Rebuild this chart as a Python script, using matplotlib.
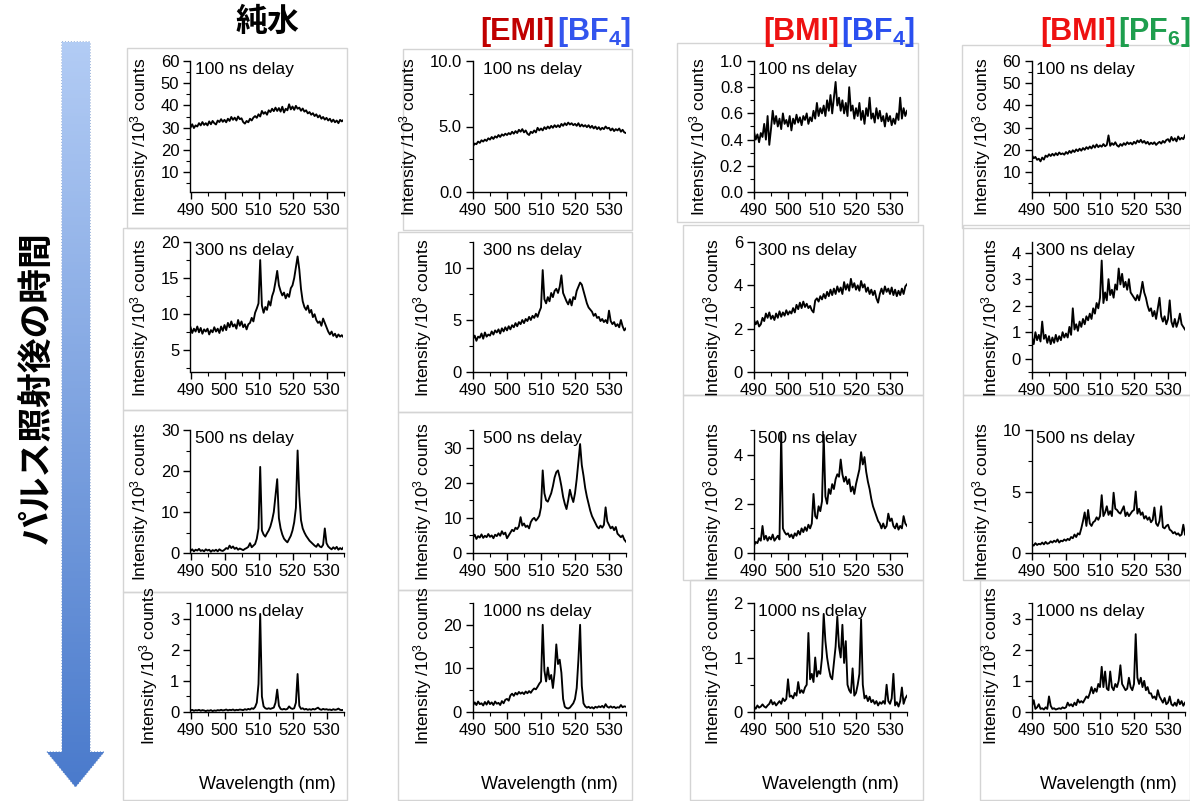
import numpy as np
import matplotlib
matplotlib.use('Agg')
import matplotlib.pyplot as plt
from matplotlib.patches import Polygon, Rectangle
from matplotlib.ticker import MultipleLocator, FormatStrFormatter

plt.rcParams['font.family'] = ['Liberation Sans', 'DejaVu Sans']
plt.rcParams['mathtext.fontset'] = 'custom'
plt.rcParams['mathtext.rm'] = 'Liberation Sans'
plt.rcParams['mathtext.it'] = 'Liberation Sans:italic'
plt.rcParams['mathtext.bf'] = 'Liberation Sans:bold'

# wavelength grid (nm), 0.5 nm steps
wl = np.arange(490, 535.5, 0.5)

samples = ['純水', 'EMI_BF4', 'BMI_BF4', 'BMI_PF6']
delays = ['100 ns delay', '300 ns delay', '500 ns delay', '1000 ns delay']

# intensity /10^3 counts
water_100 = [30, 31.5, 29.8, 31, 30.5, 32, 31, 32.5, 31.2, 32,
             31, 32.8, 31.5, 33, 32, 31.4, 33.2, 32.5, 33.8, 32.6,
             33.5, 32.4, 34, 33, 34.8, 33.5, 34.5, 33.2, 35, 33.8,
             34.2, 32.5, 31.8, 33, 32.4, 34, 33.2, 34.5, 35.2, 34.4,
             36, 35, 37.5, 36.2, 37, 35.8, 37.8, 37, 38.5, 37.4,
             39, 37.5, 38.8, 37.2, 39.4, 36.8, 38.5, 37.8, 40.5, 38.2,
             39.5, 38, 39.8, 38.5, 39, 37.6, 38.6, 37.2, 37.8, 36.4,
             37, 35.8, 36.5, 35.2, 36, 34.6, 35.5, 34, 34.8, 33.6,
             34.4, 33.2, 34, 32.6, 33.6, 32.4, 33.2, 32, 33.5, 32.8,
             33.5]
emi_bf4_100 = [3.5, 3.7, 3.65, 3.85, 3.75, 3.95, 3.85, 4.0, 3.9, 4.1,
               4.0, 4.2, 4.05, 4.25, 4.15, 4.35, 4.2, 4.4, 4.3, 4.45,
               4.35, 4.5, 4.4, 4.6, 4.45, 4.65, 4.5, 4.75, 4.6, 4.8,
               4.55, 4.7, 4.45, 4.35, 4.6, 4.5, 4.7, 4.55, 4.9, 4.7,
               4.85, 4.7, 4.95, 4.8, 5.0, 4.85, 5.05, 4.9, 5.1, 4.95,
               5.1, 4.95, 5.2, 5.05, 5.25, 5.1, 5.3, 5.15, 5.25, 5.1,
               5.2, 5.05, 5.25, 5.0, 5.15, 5.0, 5.1, 4.95, 5.1, 4.9,
               5.05, 4.85, 5.0, 4.8, 4.95, 4.75, 4.9, 4.8, 5.0, 4.85,
               4.9, 4.7, 4.85, 4.65, 4.8, 4.7, 4.85, 4.6, 4.75, 4.55,
               4.5]
bmi_bf4_100 = [0.46, 0.40, 0.44, 0.38, 0.45, 0.42, 0.52, 0.40, 0.58, 0.36,
               0.48, 0.62, 0.52, 0.58, 0.50, 0.56, 0.48, 0.60, 0.52, 0.55,
               0.50, 0.58, 0.47, 0.56, 0.52, 0.59, 0.53, 0.57, 0.51, 0.58,
               0.55, 0.60, 0.52, 0.57, 0.54, 0.62, 0.56, 0.68, 0.58, 0.64,
               0.60, 0.66, 0.58, 0.70, 0.62, 0.74, 0.60, 0.72, 0.84, 0.66,
               0.72, 0.62, 0.70, 0.60, 0.68, 0.58, 0.80, 0.62, 0.66, 0.56,
               0.64, 0.58, 0.68, 0.55, 0.62, 0.52, 0.64, 0.58, 0.72, 0.56,
               0.60, 0.53, 0.64, 0.56, 0.62, 0.54, 0.58, 0.50, 0.60, 0.54,
               0.58, 0.51, 0.56, 0.52, 0.60, 0.55, 0.72, 0.56, 0.64, 0.58,
               0.62]
bmi_pf6_100 = [17.5, 16.2, 16.8, 15.5, 16, 14.8, 16.5, 15.6, 17.4, 16.8,
               18, 17.2, 18.2, 17.4, 18.5, 17.6, 18.8, 18, 18.4, 17.8,
               19, 18.2, 19.5, 18.6, 19.8, 19, 20.2, 19.4, 20.5, 19.6,
               20.8, 20, 21.2, 20.4, 21.5, 20.6, 22, 21, 22.4, 21.2,
               22, 21.4, 22.6, 21.6, 22.2, 26.5, 21.8, 23, 22.2, 23.4,
               22, 21.4, 22.6, 21.8, 23, 22.2, 23.4, 22.6, 23.2, 22.4,
               23.6, 22.8, 24.2, 23.4, 24.5, 23.2, 24, 22.8, 23.6, 22.4,
               23.2, 22.6, 23.4, 22.2, 23, 23.6, 22.8, 24, 23.2, 24.4,
               24.8, 23.6, 25.8, 24.2, 25.2, 23.8, 26, 24.6, 25.4, 24.8,
               26.5]

water_300 = [8.2, 7.4, 8.0, 7.6, 8.3, 7.5, 8.1, 7.3, 7.9, 7.6,
             8.0, 7.2, 7.8, 7.5, 8.2, 7.6, 8.0, 7.4, 8.3, 7.7,
             8.5, 7.8, 8.8, 8.2, 9.0, 8.3, 8.6, 8.0, 9.2, 8.4,
             9.0, 8.2, 8.6, 7.9, 8.6, 8.8, 9.5, 9.0, 10.2, 10.8,
             11.5, 17.5, 11.2, 10.2, 11.0, 10.6, 11.8, 11.2, 12.5, 13.2,
             14.5, 16.0, 14.0, 13.2, 12.6, 13.0, 12.2, 12.8, 12.4, 13.6,
             14.0, 15.0, 16.5, 18.0, 16.2, 13.5, 11.8, 11.0, 10.6, 11.2,
             10.2, 10.6, 9.6, 10.0, 9.2, 8.8, 9.0, 8.4, 9.4, 8.8,
             8.2, 7.6, 7.2, 7.6, 7.0, 7.3, 6.8, 7.2, 6.9, 7.1,
             6.8]
emi_bf4_300 = [3.2, 3.5, 3.0, 3.4, 3.3, 3.7, 3.2, 3.8, 3.4, 3.6,
               3.5, 3.9, 3.6, 4.0, 3.8, 4.1, 3.7, 4.2, 3.9, 4.3,
               4.0, 4.4, 4.1, 4.5, 4.3, 4.7, 4.4, 4.8, 4.6, 5.0,
               4.7, 5.1, 4.9, 5.3, 5.0, 5.4, 5.2, 5.6, 5.3, 5.8,
               6.2, 9.8, 7.0, 6.6, 7.2, 6.8, 7.6, 7.2, 7.8, 8.0,
               7.6, 8.2, 9.3, 7.6, 7.2, 6.8, 6.5, 7.0, 6.4, 7.2,
               7.0, 7.8, 8.2, 8.6, 8.4, 7.8, 7.2, 6.6, 6.2, 6.0,
               5.8, 5.4, 5.6, 5.2, 5.3, 4.9, 5.1, 4.8, 5.0, 4.7,
               5.9, 4.9, 4.6, 4.8, 4.4, 4.6, 4.3, 5.0, 4.4, 4.0,
               4.2]
bmi_bf4_300 = [2.4, 2.2, 2.35, 2.1, 2.2, 2.5, 2.35, 2.7, 2.5, 2.75,
               2.45, 2.6, 2.4, 2.7, 2.5, 2.8, 2.55, 2.75, 2.6, 2.85,
               2.65, 2.8, 2.7, 2.95, 2.75, 3.1, 2.9, 3.2, 2.95, 3.25,
               3.0, 3.15, 2.95, 3.05, 2.85, 2.75, 3.3, 3.4, 3.25, 3.5,
               3.35, 3.6, 3.4, 3.7, 3.5, 3.8, 3.55, 3.85, 3.6, 3.95,
               3.7, 3.9, 3.6, 4.15, 3.8, 4.05, 3.75, 4.3, 3.9, 4.1,
               3.8, 4.0, 3.75, 4.2, 3.9, 4.05, 3.7, 3.9, 3.6, 3.8,
               3.55, 3.75, 3.4, 3.2, 3.6, 3.85, 3.6, 3.95, 3.7, 3.85,
               3.6, 3.9, 3.55, 3.8, 3.5, 3.75, 3.55, 3.85, 3.6, 3.95,
               4.05]
bmi_pf6_300 = [0.8, 0.55, 1.0, 0.7, 0.9, 0.65, 1.4, 0.75, 0.9, 0.6,
               0.85, 0.55, 0.8, 0.6, 0.9, 0.65, 0.85, 0.7, 1.0, 0.8,
               0.95, 0.8, 1.2, 0.9, 1.9, 1.1, 1.3, 1.05, 1.4, 1.2,
               1.5, 1.3, 1.6, 1.45, 1.7, 1.5, 1.9, 1.7, 2.1, 1.9,
               2.3, 3.7, 2.1, 2.5, 2.2, 3.0, 2.4, 2.6, 2.3, 2.8,
               2.6, 3.4, 2.8, 3.2, 2.7, 2.9, 2.6, 3.0, 2.5, 2.4,
               2.3, 2.2, 2.4, 2.2, 2.5, 2.9, 2.5, 2.3, 2.0, 1.8,
               1.9, 1.6, 1.8, 1.5, 1.9, 2.3, 1.6, 1.4, 1.6, 1.3,
               1.5, 2.2, 1.4, 1.2, 1.5, 1.2, 1.4, 1.7, 1.3, 1.2,
               1.1]

water_500 = [0.5, 0.9, 0.4, 0.8, 0.6, 1.0, 0.5, 0.7, 0.4, 0.9,
             0.6, 0.8, 0.3, 0.7, 0.5, 0.8, 0.4, 0.9, 0.6, 0.5,
             0.8, 1.2, 1.0, 1.8, 1.2, 1.6, 1.0, 1.3, 0.8, 1.1,
             0.9, 0.7, 1.0, 1.2, 1.5, 2.4, 1.4, 1.8, 2.2, 3.5,
             6.0, 21.0, 5.5, 4.5, 4.0, 4.8, 5.5, 6.5, 8.0, 10.0,
             14.0, 18.0, 8.5, 6.0, 4.5, 3.5, 3.0, 2.6, 3.4, 4.2,
             5.5, 7.5, 11.0, 25.0, 14.0, 8.0, 6.0, 5.0, 4.2, 3.6,
             3.0, 2.6, 2.2, 1.8, 1.5, 2.2, 1.6, 1.4, 2.0, 6.0,
             2.4, 1.6, 1.2, 0.9, 1.4, 1.0, 1.5, 0.8, 1.2, 0.9,
             1.4]
emi_bf4_500 = [4.5, 5.2, 4.0, 4.8, 4.4, 5.3, 4.3, 4.9, 4.5, 5.4,
               4.6, 5.0, 4.2, 5.2, 4.8, 5.6, 4.9, 6.2, 5.3, 5.8,
               4.2, 5.0, 5.8, 6.6, 6.2, 7.2, 6.8, 7.6, 10.2, 7.8,
               8.4, 7.4, 7.8, 7.0, 8.8, 9.6, 10.0, 9.2, 9.8, 10.6,
               13.0, 23.5, 17.0, 15.0, 14.6, 15.8, 17.0, 19.0, 21.5, 23.0,
               23.5, 21.5, 19.0, 16.0, 14.0, 12.5, 15.0, 18.0, 16.0, 14.5,
               17.0, 21.0, 26.0, 31.0, 25.0, 22.0, 18.5, 16.0, 14.0, 12.0,
               10.5, 9.5, 8.5, 7.5, 7.0, 7.8, 7.2, 8.0, 13.0, 9.0,
               8.0, 7.0, 7.5, 6.5, 7.4, 5.5, 5.0, 4.5, 5.0, 3.8,
               3.2]
bmi_bf4_500 = [0.3, 0.45, 0.4, 0.6, 0.5, 1.1, 0.55, 0.7, 0.5, 0.65,
               0.55, 0.75, 0.5, 0.6, 0.7, 0.55, 4.9, 1.0, 0.85, 0.75,
               0.8, 0.65, 0.75, 0.6, 0.8, 0.7, 0.9, 0.75, 1.0, 0.85,
               1.05, 0.9, 1.15, 1.0, 1.2, 2.4, 1.5, 1.4, 1.9, 1.7,
               2.1, 4.8, 2.3, 2.0, 2.6, 2.4, 2.8, 2.6, 3.0, 3.2,
               3.1, 3.8, 3.2, 2.9, 3.1, 2.8, 3.0, 2.5, 2.7, 2.4,
               2.8, 3.1, 3.4, 4.1, 3.6, 3.9, 3.3, 2.9, 2.6, 2.2,
               1.9, 1.7, 1.5, 1.3, 1.2, 1.0, 1.2, 1.0, 1.1, 1.6,
               1.3, 1.4, 1.1, 1.0, 1.2, 0.95, 1.1, 1.0, 1.5, 1.2,
               1.1]
bmi_pf6_500 = [0.7, 0.6, 0.8, 0.65, 0.75, 0.7, 0.85, 0.7, 0.9, 0.75,
               0.8, 0.95, 0.85, 1.0, 0.9, 1.1, 0.85, 1.0, 0.95, 1.1,
               1.0, 1.15, 1.05, 1.3, 1.2, 1.5, 1.3, 1.6, 1.5, 2.0,
               2.6, 3.3, 2.2, 3.5, 2.4, 2.2, 2.5, 2.6, 2.9, 2.7,
               3.0, 4.7, 3.0, 3.3, 3.8, 3.1, 3.4, 3.0, 4.9, 3.6,
               3.5, 3.3, 3.2, 3.5, 3.8, 3.0, 3.3, 3.0, 3.2, 3.4,
               3.5, 5.0, 3.2, 3.6, 3.1, 3.3, 2.8, 3.0, 2.7, 2.9,
               2.5, 2.7, 3.7, 2.4, 2.2, 2.6, 3.8, 2.1, 2.0, 2.2,
               2.3, 1.9, 1.8, 1.6, 1.7, 1.5, 1.6, 1.4, 1.5, 2.3,
               1.5]

water_1000 = [0.05, 0.07, 0.04, 0.06, 0.05, 0.07, 0.04, 0.06, 0.05, 0.03,
              0.05, 0.04, 0.06, 0.03, 0.05, 0.04, 0.06, 0.05, 0.07, 0.05,
              0.06, 0.08, 0.05, 0.07, 0.06, 0.08, 0.05, 0.07, 0.06, 0.08,
              0.07, 0.06, 0.09, 0.07, 0.1, 0.08, 0.12, 0.1, 0.16, 0.3,
              0.9, 3.15, 0.5, 0.18, 0.12, 0.1, 0.12, 0.1, 0.12, 0.14,
              0.3, 0.72, 0.2, 0.1, 0.08, 0.1, 0.08, 0.1, 0.18, 0.12,
              0.1, 0.12, 0.3, 1.22, 0.2, 0.1, 0.12, 0.08, 0.1, 0.07,
              0.09, 0.07, 0.1, 0.08, 0.11, 0.14, 0.09, 0.07, 0.1, 0.08,
              0.09, 0.07, 0.08, 0.06, 0.09, 0.07, 0.08, 0.11, 0.07, 0.06,
              0.07]
emi_bf4_1000 = [1.5, 2.2, 1.6, 2.4, 1.8, 2.0, 1.5, 2.3, 1.7, 2.5,
                1.8, 2.2, 1.6, 2.4, 1.9, 2.1, 1.6, 2.5, 2.0, 2.8,
                3.0, 2.6, 3.8, 4.2, 3.7, 4.4, 4.0, 4.6, 4.2, 4.5,
                4.1, 4.7, 4.3, 4.8, 4.4, 5.0, 5.4, 5.2, 5.8, 6.5,
                7.0, 20.0, 9.5, 7.0, 10.2, 7.5, 8.5, 5.5, 9.0, 15.5,
                11.0, 12.0, 9.0, 3.0, 1.2, 0.9, 0.8, 1.0, 1.5, 2.0,
                3.0, 5.5, 12.0, 20.0, 6.0, 2.0, 1.3, 1.0, 1.2, 0.9,
                1.1, 0.8, 1.2, 1.0, 1.3, 1.1, 1.4, 1.0, 1.8, 1.2,
                1.0, 1.3, 1.0, 1.2, 0.9, 1.1, 1.0, 1.6, 1.1, 1.3,
                1.2]
bmi_bf4_1000 = [0.1, 0.06, 0.12, 0.08, 0.1, 0.14, 0.1, 0.08, 0.12, 0.15,
                0.22, 0.14, 0.18, 0.12, 0.16, 0.2, 0.15, 0.25, 0.2, 0.24,
                0.6, 0.28, 0.3, 0.25, 0.35, 0.3, 0.55, 0.35, 0.4, 0.35,
                0.45, 0.5, 1.45, 0.6, 0.7, 0.55, 1.0, 0.65, 0.75, 0.7,
                1.0, 1.8, 1.3, 1.0, 0.8, 0.65, 0.6, 0.9, 1.2, 1.75,
                1.2, 1.0, 1.6, 0.9, 1.3, 0.5, 0.4, 0.35, 0.8, 0.3,
                0.35, 0.5, 0.7, 1.7, 0.5, 0.25, 0.3, 0.2, 0.28, 0.18,
                0.22, 0.15, 0.2, 0.12, 0.18, 0.15, 0.2, 0.15, 0.5, 0.2,
                0.15, 0.25, 0.7, 0.12, 0.18, 0.1, 0.2, 0.45, 0.15, 0.25,
                0.3]
bmi_pf6_1000 = [0.2, 0.38, 0.1, 0.15, 0.25, 0.1, 0.12, 0.08, 0.15, 0.1,
                0.5, 0.2, 0.1, 0.12, 0.08, 0.1, 0.12, 0.1, 0.15, 0.12,
                0.15, 0.3, 0.2, 0.25, 0.18, 0.3, 0.22, 0.4, 0.3, 0.35,
                0.3, 0.4, 0.5, 0.45, 0.6, 0.8, 0.6, 0.75, 0.65, 0.9,
                0.8, 1.45, 0.8, 1.3, 0.75, 0.7, 1.3, 0.8, 0.7, 0.9,
                0.8, 1.0, 1.5, 0.9, 0.8, 0.7, 0.75, 1.1, 0.8, 0.7,
                0.9, 2.5, 1.1, 0.9, 1.1, 0.8, 1.0, 0.7, 0.8, 0.6,
                0.6, 0.45, 0.5, 0.4, 0.7, 0.5, 0.4, 0.3, 0.45, 0.25,
                0.3, 0.5, 0.25, 0.2, 0.3, 0.2, 0.4, 0.25, 0.35, 0.2,
                0.3]

spectra = [[water_100, emi_bf4_100, bmi_bf4_100, bmi_pf6_100],
           [water_300, emi_bf4_300, bmi_bf4_300, bmi_pf6_300],
           [water_500, emi_bf4_500, bmi_bf4_500, bmi_pf6_500],
           [water_1000, emi_bf4_1000, bmi_bf4_1000, bmi_pf6_1000]]

# y axis: (ymin, ymax, major, minor, format)
yaxes = [[(1, 60, 10, 5, None), (0, 10, 5, 2.5, '%.1f'), (0, 1, 0.2, 0.1, '%.1f'), (1, 60, 10, 5, None)],
         [(2, 20, 5, 2.5, None), (0, 12.5, 5, 2.5, None), (0, 6, 2, 1, None), (-0.5, 4.4, 1, 0.5, None)],
         [(0, 30, 10, 5, None), (0, 35, 10, 5, None), (0, 5, 2, 1, None), (0, 10, 5, 2.5, None)],
         [(0, 3.5, 1, 0.5, None), (0, 25, 10, 5, None), (0, 2, 1, 0.5, None), (0, 3.5, 1, 0.5, None)]]

W, H = 1190, 801
fig = plt.figure(figsize=(11.9, 8.01), dpi=100)

# background layer in pixel coordinates (frames, arrow, headings)
bg = fig.add_axes([0, 0, 1, 1])
bg.set_xlim(0, W)
bg.set_ylim(H, 0)
bg.axis('off')

frames = [[(127, 48, 347, 228), (403, 49, 632, 230), (677, 43, 918, 222), (962, 45, 1190, 228)],
          [(123, 228, 347, 410), (398, 232, 632, 412), (683, 225, 923, 395), (963, 225, 1190, 395)],
          [(123, 410, 347, 592), (398, 412, 632, 590), (683, 395, 923, 580), (963, 395, 1190, 580)],
          [(123, 592, 347, 800), (398, 590, 632, 800), (690, 580, 923, 800), (980, 580, 1190, 800)]]
for row in frames:
    for x0, y0, x1, y1 in row:
        bg.add_patch(Rectangle((x0, y0), x1 - x0, y1 - y0, fill=False,
                               edgecolor='#d4d4d4', lw=1))

# gradient arrow
arrow = Polygon([(62, 42), (90, 42), (90, 752), (104, 752), (75.5, 787),
                 (47, 752), (62, 752)], closed=True, facecolor='none',
                edgecolor='#5d84c4', lw=0.8, linestyle=':')
bg.add_patch(arrow)
top_c = np.array([0.70, 0.80, 0.96])
bot_c = np.array([0.29, 0.48, 0.80])
t = np.linspace(0, 1, 200)[:, None, None]
grad = top_c * (1 - t) + bot_c * t
im = bg.imshow(grad, extent=(47, 104, 787, 42), aspect='auto', zorder=1)
im.set_clip_path(arrow)
bg.set_xlim(0, W)
bg.set_ylim(H, 0)

bg.text(37, 388, 'パルス照射後の時間', rotation=90, fontsize=25, fontweight='bold',
        ha='center', va='center', family=['Noto Sans CJK JP'])

# column headings
bg.text(268, 22, '純水', fontsize=23, fontweight='bold', ha='center', va='center',
        family=['Noto Sans CJK JP'])
heads = [(555, '[EMI]', '#c00000', r'[BF$_\mathbf{4}$]', '#3355ee'),
         (839, '[BMI]', '#ee1111', r'[BF$_\mathbf{4}$]', '#2a4ff0'),
         (1116, '[BMI]', '#ee1111', r'[PF$_\mathbf{6}$]', '#1e9e4e')]
for xj, cat, c1, an, c2 in heads:
    bg.text(xj, 40, cat, color=c1, fontsize=22, fontweight='bold', ha='right',
            va='baseline', family=['Liberation Sans'])
    bg.text(xj + 2, 40, an, color=c2, fontsize=22, fontweight='bold', ha='left',
            va='baseline', family=['Liberation Sans'])

col_left = [190.5, 473, 754, 1032]
row_y = [(61, 192), (242, 372), (430, 553), (603, 712)]
ax_w = 153
text_dx = [3, 7, 3, 3]

for r in range(4):
    for c in range(4):
        x0 = col_left[c]
        y0, y1 = row_y[r]
        ax = fig.add_axes([x0 / W, 1 - y1 / H, ax_w / W, (y1 - y0) / H])
        ax.patch.set_alpha(0)
        ax.plot(wl, spectra[r][c], color='black', lw=1.35)
        ymin, ymax, maj, mnr, fmt = yaxes[r][c]
        ax.set_xlim(490, 535)
        ax.set_ylim(ymin, ymax)
        ax.xaxis.set_major_locator(MultipleLocator(10))
        ax.xaxis.set_minor_locator(MultipleLocator(5))
        ax.yaxis.set_major_locator(MultipleLocator(maj))
        ax.yaxis.set_minor_locator(MultipleLocator(mnr))
        if fmt:
            ax.yaxis.set_major_formatter(FormatStrFormatter(fmt))
        for s in ['top', 'right']:
            ax.spines[s].set_visible(False)
        for s in ['left', 'bottom']:
            ax.spines[s].set_linewidth(1)
        ax.tick_params(which='major', direction='out', length=5, width=1,
                       labelsize=12, pad=3)
        ax.tick_params(which='minor', direction='out', length=3, width=0.8)
        ax.set_ylabel('Intensity /10$^3$ counts', fontsize=12.5, labelpad=7)
        ax.yaxis.label.set_y(0.42)
        ax.annotate(delays[r], xy=(0, 1), xycoords='axes fraction',
                    xytext=(text_dx[c], -1), textcoords='offset points',
                    ha='left', va='top', fontsize=12.5)
        if r == 3:
            ax.set_xlabel('Wavelength (nm)', fontsize=13, labelpad=27)

fig.savefig('out.png', dpi=100)
